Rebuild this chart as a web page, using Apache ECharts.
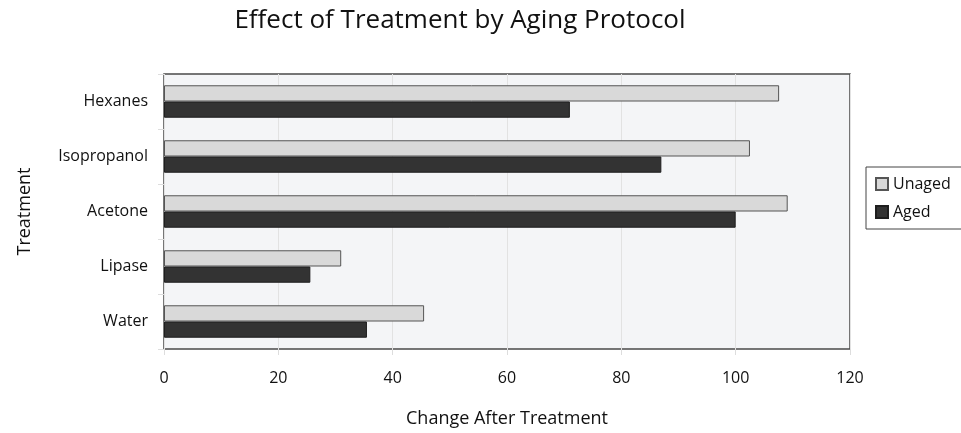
<!DOCTYPE html>
<html>
<head>
<meta charset="utf-8">
<script src="https://cdn.jsdelivr.net/npm/echarts@6/dist/echarts.min.js"></script>
<style>html,body{margin:0;padding:0;background:#fff}#c{width:961px;height:433px}</style>
</head>
<body>
<div id="c"></div>
<script>
const categories = ["Hexanes", "Isopropanol", "Acetone", "Lipase", "Water"];
const unaged = [107.6, 102.5, 109.1, 31.0, 45.5];
const aged = [71.0, 87.0, 100.0, 25.6, 35.5];
const xTicks = [0, 20, 40, 60, 80, 100, 120];

const chart = echarts.init(document.getElementById('c'), null, {renderer: 'canvas'});
const font = 'Open Sans';
chart.setOption({
  animation: false,
  backgroundColor: '#fff',
  title: {
    text: 'Effect of Treatment by Aging Protocol',
    left: 455, top: 3, textAlign: 'center',
    textStyle: {fontFamily: font, fontSize: 26, fontWeight: 'normal', color: '#111'}
  },
  legend: {
    orient: 'vertical', left: 866, top: 167,
    icon: 'rect', itemWidth: 12, itemHeight: 12, itemGap: 12,
    padding: [9, 30, 9, 9],
    borderColor: '#444', borderWidth: 1,
    textStyle: {fontFamily: font, fontSize: 16, color: '#111'},
    data: ['Unaged', 'Aged']
  },
  grid: {
    left: 164, right: 111, top: 74, bottom: 81,
    show: true, backgroundColor: '#f4f5f7', borderColor: '#4a4a4a', borderWidth: 1.5
  },
  xAxis: {
    type: 'value', min: xTicks[0], max: xTicks[xTicks.length - 1], interval: 20,
    name: 'Change After Treatment', nameLocation: 'middle', nameGap: 61,
    nameTextStyle: {fontFamily: font, fontSize: 18, color: '#111'},
    axisLine: {show: false},
    axisTick: {show: true, length: 6, lineStyle: {color: '#ddd'}},
    axisLabel: {fontFamily: font, fontSize: 16, color: '#111', margin: 21},
    splitLine: {show: true, lineStyle: {color: '#e2e2e2'}}
  },
  yAxis: {
    type: 'category', data: categories, inverse: true,
    name: 'Treatment', nameLocation: 'middle', nameGap: 130, nameRotate: 90,
    nameTextStyle: {fontFamily: font, fontSize: 18, color: '#111'},
    axisLine: {show: false},
    axisTick: {show: true, length: 6, lineStyle: {color: '#ddd'}},
    axisLabel: {fontFamily: font, fontSize: 16, color: '#111', margin: 16},
    splitLine: {show: false}
  },
  series: [
    {name: 'Unaged', type: 'bar', data: unaged, barGap: '0%', barCategoryGap: '41%',
     itemStyle: {color: '#d9d9d9', borderColor: '#555', borderWidth: 1}},
    {name: 'Aged', type: 'bar', data: aged, barGap: '0%', barCategoryGap: '41%',
     itemStyle: {color: '#333333', borderColor: '#1e1e1e', borderWidth: 1}}
  ]
});
</script>
</body>
</html>
